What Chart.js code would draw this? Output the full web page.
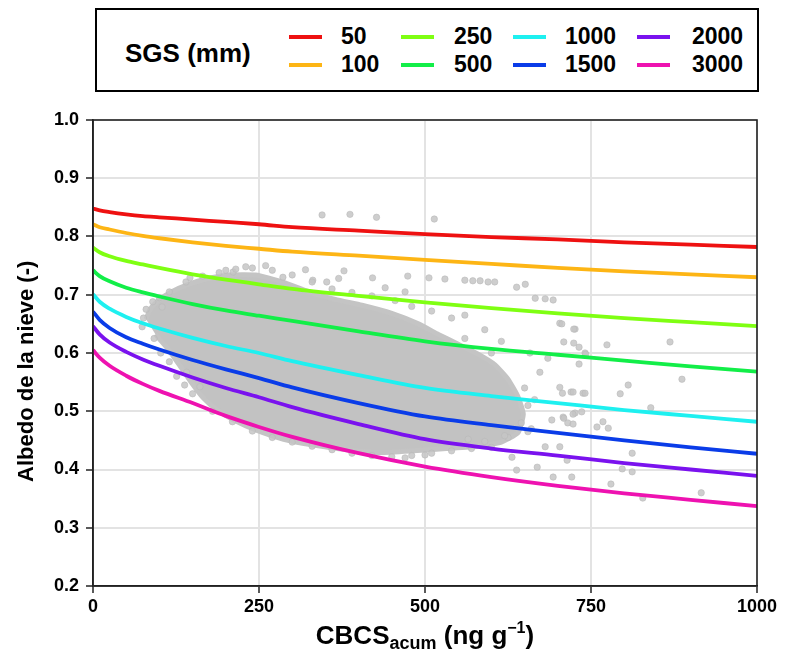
<!DOCTYPE html>
<html>
<head>
<meta charset="utf-8">
<script src="https://cdn.jsdelivr.net/npm/chart.js@4"></script>
<style>
  html,body{margin:0;padding:0;background:#fff;}
  #wrap{position:relative;width:785px;height:662px;font-family:'Liberation Sans',Arial,sans-serif;}
  #wrap canvas{position:absolute;left:0;top:0;}
  #legend{position:absolute;left:95px;top:8px;width:660px;height:80px;border:2px solid #000;background:#fff;}
  #legend .ttl{position:absolute;left:28px;top:30px;font-weight:bold;font-size:26px;line-height:26px;white-space:nowrap;color:#000;}
  #legend .sw{position:absolute;width:33px;height:4px;}
  #legend .lb{position:absolute;font-weight:bold;font-size:23px;line-height:23px;white-space:nowrap;color:#000;}
  #xtitle{position:absolute;top:622px;transform:translateX(-50%);font-weight:bold;font-size:26px;line-height:26px;white-space:nowrap;color:#000;}
  #xtitle sub{font-size:18px;vertical-align:-5px;line-height:0;}
  #xtitle sup{font-size:16px;vertical-align:11px;line-height:0;}
</style>
</head>
<body>
<div id="wrap">
  <canvas id="c" width="785" height="662"></canvas>
  <div id="legend"><div class="ttl">SGS (mm)</div></div>
  <div id="xtitle">CBCS<sub>acum</sub> (ng g<sup>&minus;1</sup>)</div>
</div>
<script>
// ---------- data ----------
const xTicks = [0, 250, 500, 750, 1000];
const yTicks = [0.2, 0.3, 0.4, 0.5, 0.6, 0.7, 0.8, 0.9, 1.0];

const sgsLabels = ['50', '100', '250', '500', '1000', '1500', '2000', '3000'];
const sgsColors = ['#ee1111', '#fdb515', '#7fff12', '#12ee48', '#1ef0f0', '#0a3ce8', '#7a12ee', '#ee12b0'];

const cbcs    = [0, 10, 25, 50, 75, 100, 150, 200, 250, 300, 400, 500, 600, 700, 800, 900, 1000];
const sgs50   = [0.848, 0.845, 0.842, 0.838, 0.835, 0.833, 0.829, 0.825, 0.821, 0.816, 0.810, 0.804, 0.799, 0.795, 0.790, 0.786, 0.782];
const sgs100  = [0.821, 0.816, 0.812, 0.806, 0.801, 0.797, 0.790, 0.784, 0.779, 0.774, 0.767, 0.760, 0.753, 0.746, 0.740, 0.735, 0.730];
const sgs250  = [0.781, 0.773, 0.766, 0.758, 0.752, 0.746, 0.735, 0.726, 0.718, 0.710, 0.698, 0.687, 0.677, 0.668, 0.660, 0.653, 0.646];
const sgs500  = [0.742, 0.732, 0.723, 0.712, 0.704, 0.697, 0.684, 0.673, 0.664, 0.655, 0.637, 0.620, 0.607, 0.597, 0.587, 0.577, 0.568];
const sgs1000 = [0.701, 0.688, 0.676, 0.662, 0.651, 0.642, 0.626, 0.612, 0.600, 0.586, 0.562, 0.540, 0.526, 0.514, 0.502, 0.492, 0.482];
const sgs1500 = [0.671, 0.657, 0.643, 0.627, 0.616, 0.606, 0.588, 0.572, 0.557, 0.541, 0.514, 0.491, 0.476, 0.463, 0.450, 0.438, 0.427];
const sgs2000 = [0.646, 0.632, 0.618, 0.602, 0.589, 0.578, 0.558, 0.540, 0.524, 0.507, 0.478, 0.452, 0.436, 0.424, 0.411, 0.400, 0.389];
const sgs3000 = [0.605, 0.592, 0.578, 0.561, 0.547, 0.535, 0.514, 0.492, 0.473, 0.456, 0.428, 0.405, 0.387, 0.372, 0.359, 0.348, 0.337];
const sgsSeries = [sgs50, sgs100, sgs250, sgs500, sgs1000, sgs1500, sgs2000, sgs3000];

// dense core of the observation cloud (outline)
const cloudX = [80, 86, 98, 118, 142, 170, 205, 245, 285, 325, 365, 405, 450, 490, 520, 550, 580, 605, 625, 640, 648, 640, 615, 580, 532, 482, 432, 382, 332, 287, 247, 212, 186, 166, 149, 131, 113, 94];
const cloudY = [0.658, 0.675, 0.690, 0.705, 0.717, 0.727, 0.734, 0.734, 0.722, 0.705, 0.692, 0.682, 0.668, 0.650, 0.632, 0.615, 0.598, 0.580, 0.555, 0.525, 0.495, 0.463, 0.447, 0.440, 0.436, 0.432, 0.429, 0.434, 0.442, 0.452, 0.467, 0.485, 0.503, 0.523, 0.548, 0.578, 0.607, 0.632];

// individual observations around the core
const obsX = [387, 427, 514, 345, 90, 104, 141, 161, 211, 146, 286, 331, 352,
  378, 421, 474, 506, 530, 560, 572, 583, 595, 605, 638, 651, 666, 681, 693, 703, 726, 732, 741, 685, 673, 658, 703, 720, 738, 708, 691, 726, 681, 669, 693, 721, 631, 638,
  869, 887, 774, 806, 794, 840, 812, 797, 812, 780, 916, 768, 776, 759, 723, 736, 709, 715, 723, 707, 723, 741, 732, 724, 706, 709, 724, 742, 828, 703, 714,
  76, 74, 80, 92, 102, 115, 126, 138, 150,
  100, 115, 140, 165, 190, 215, 240, 270, 300, 330, 360, 390, 420, 455, 480, 510, 540,
  180, 210, 240, 270, 300, 330, 360, 390, 420, 450, 480, 510, 540, 570, 600, 625, 645, 655, 650, 660,
  200, 230, 260, 320, 370, 440, 470, 560, 590, 615, 565, 590, 620, 655, 665, 600, 560, 500, 470];
const obsY = [0.838, 0.833, 0.830, 0.837, 0.688, 0.679, 0.567, 0.542, 0.739, 0.729, 0.730, 0.725, 0.722,
  0.741, 0.729, 0.732, 0.729, 0.727, 0.725, 0.724, 0.724, 0.722, 0.722, 0.713, 0.718, 0.694, 0.693, 0.691, 0.651, 0.641, 0.610, 0.600, 0.591, 0.567, 0.600, 0.541, 0.533, 0.531, 0.490, 0.485, 0.497, 0.439, 0.404, 0.387, 0.387, 0.421, 0.399,
  0.619, 0.555, 0.614, 0.545, 0.530, 0.506, 0.428, 0.401, 0.396, 0.375, 0.360, 0.482, 0.471, 0.473, 0.495, 0.499, 0.488, 0.480, 0.478, 0.531, 0.533, 0.531, 0.581, 0.641, 0.650, 0.619, 0.617, 0.598, 0.351, 0.439, 0.416,
  0.660, 0.645, 0.675, 0.625, 0.600, 0.585, 0.560, 0.545, 0.530,
  0.695, 0.705, 0.722, 0.732, 0.738, 0.744, 0.746, 0.742, 0.734, 0.722, 0.710, 0.704, 0.698, 0.690, 0.680, 0.672, 0.660,
  0.500, 0.482, 0.466, 0.455, 0.447, 0.440, 0.434, 0.428, 0.424, 0.422, 0.424, 0.428, 0.432, 0.436, 0.438, 0.455, 0.480, 0.510, 0.540, 0.470,
  0.742, 0.748, 0.750, 0.743, 0.728, 0.712, 0.705, 0.665, 0.640, 0.620, 0.452, 0.448, 0.458, 0.465, 0.520, 0.600, 0.625, 0.425, 0.420];

// ---------- chart ----------
const FONT = "'Liberation Sans', Arial, sans-serif";
const toXY = (xs, ys) => xs.map((x, i) => ({x: x, y: ys[i]}));

const datasets = [];
datasets.push({
  type: 'line', label: 'cloud', data: toXY(cloudX, cloudY),
  backgroundColor: '#c2c2c2', borderColor: '#c4c4c4', borderWidth: 5,
  fill: 'shape', pointRadius: 0, tension: 0.15, order: 30, borderJoinStyle: 'round'
});
datasets.push({
  type: 'scatter', label: 'obs', data: toXY(obsX, obsY),
  backgroundColor: 'rgba(198,198,198,0.85)', borderColor: 'rgba(182,182,182,0.9)', borderWidth: 0.6,
  pointRadius: 3.2, order: 29
});
sgsSeries.forEach((s, i) => {
  datasets.push({
    type: 'line', label: sgsLabels[i], data: toXY(cbcs, s),
    borderColor: sgsColors[i], backgroundColor: sgsColors[i], borderWidth: 3.8,
    pointRadius: 0, fill: false, cubicInterpolationMode: 'monotone', order: i
  });
});

const framePlugin = {
  id: 'frame',
  afterDraw(chart) {
    const {ctx, chartArea: a} = chart;
    ctx.save();
    ctx.strokeStyle = '#222';
    ctx.lineWidth = 1.6;
    ctx.strokeRect(a.left, a.top, a.right - a.left, a.bottom - a.top);
    ctx.restore();
  }
};

new Chart(document.getElementById('c'), {
  type: 'scatter',
  data: {datasets: datasets},
  plugins: [framePlugin],
  options: {
    responsive: false,
    animation: false,
    layout: {padding: {top: 120, right: 28, left: 0, bottom: 0}},
    plugins: {legend: {display: false}, tooltip: {enabled: false}},
    scales: {
      x: {
        type: 'linear', min: 0, max: 1000,
        afterBuildTicks: s => { s.ticks = xTicks.map(v => ({value: v})); },
        afterFit: s => { s.height = 76; },
        ticks: {color: '#000', font: {family: FONT, size: 18, weight: 'bold'}, padding: 3, maxRotation: 0,
                callback: v => String(v)},
        grid: {color: '#e3e3e3', lineWidth: 2, tickLength: 7, tickColor: '#222', tickWidth: 1.5},
        border: {color: '#222', width: 1.6},
        title: {display: false}
      },
      y: {
        type: 'linear', min: 0.2, max: 1.0,
        afterBuildTicks: s => { s.ticks = yTicks.map(v => ({value: v})); },
        afterFit: s => { s.width = 93; },
        ticks: {color: '#000', font: {family: FONT, size: 18, weight: 'bold'}, padding: 7,
                callback: v => Number(v).toFixed(1)},
        grid: {color: '#e3e3e3', lineWidth: 2, tickLength: 7, tickColor: '#222', tickWidth: 1.5},
        border: {color: '#222', width: 1.6},
        title: {display: true, text: 'Albedo de la nieve (-)      ', color: '#000',
                font: {family: FONT, size: 22, weight: 'bold'}, padding: {top: 14, bottom: 0}}
      }
    }
  }
});

// ---------- legend (HTML text) ----------
const lg = document.getElementById('legend');
const swX = [192, 304, 416, 540];
const lbX = [244, 357, 468, 595];
const rowY = [27, 55];
sgsLabels.forEach((lab, i) => {
  const col = Math.floor(i / 2), row = i % 2;
  const sw = document.createElement('div');
  sw.className = 'sw';
  sw.style.left = swX[col] + 'px';
  sw.style.top = (rowY[row] - 2) + 'px';
  sw.style.background = sgsColors[i];
  lg.appendChild(sw);
  const lb = document.createElement('div');
  lb.className = 'lb';
  lb.textContent = lab;
  lb.style.left = lbX[col] + 'px';
  lb.style.top = (rowY[row] - 12) + 'px';
  lg.appendChild(lb);
});
document.getElementById('xtitle').style.left = '425px';
</script>
</body>
</html>
